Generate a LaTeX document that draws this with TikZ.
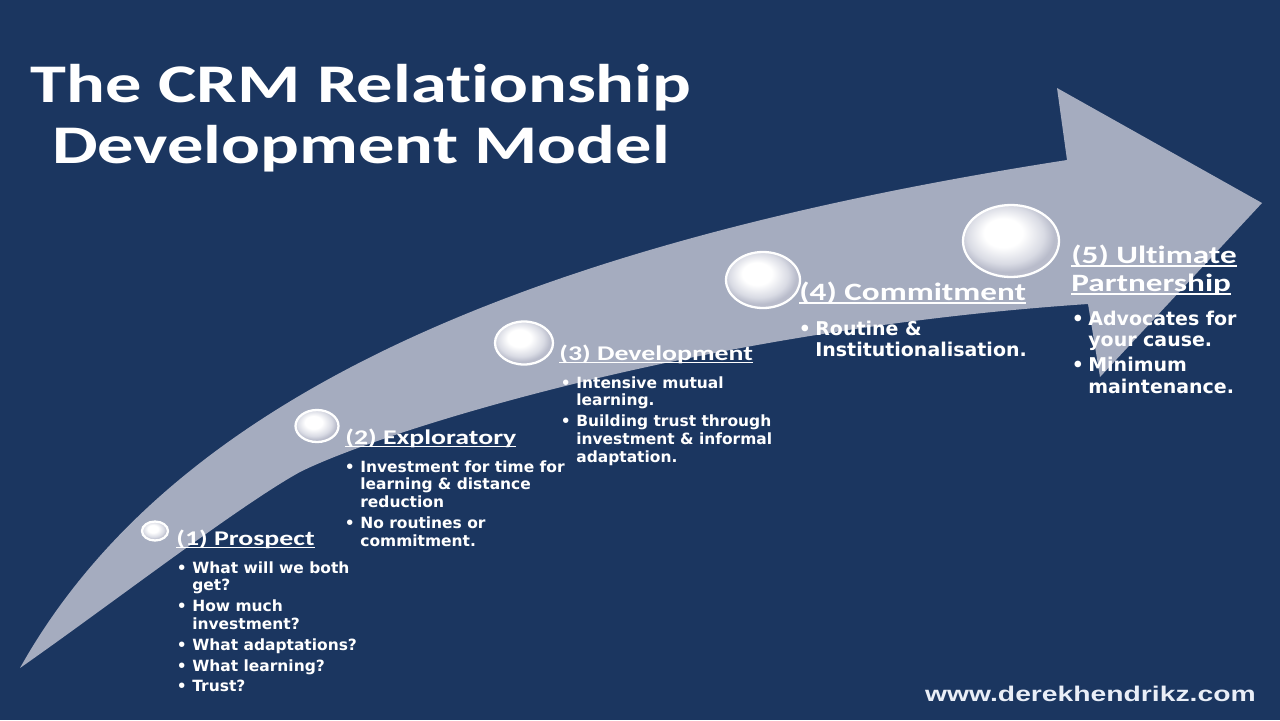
\documentclass[tikz,border=0pt]{standalone}
\usepackage{fontspec}
\setmainfont{DejaVu Sans}
\newfontfamily\hdfont[FakeStretch=1.33,RawFeature={-liga}]{Carlito}
\newfontfamily\btfont{DejaVu Sans}
\newfontfamily\urlfont[FakeStretch=1.33]{Liberation Sans}
\definecolor{bg}{HTML}{1B3660}
\definecolor{arw}{HTML}{A5ACBF}
\definecolor{sphA}{HTML}{D9DBE4}
\definecolor{sphB}{HTML}{B9BCCB}
\definecolor{urlc}{HTML}{E9EEF7}
\pgfdeclareradialshading{sph}{\pgfpoint{-5bp}{7bp}}{color(0bp)=(white); color(10bp)=(white); color(20bp)=(sphA); color(25bp)=(sphB); color(50bp)=(sphB)}
\newlength\bi \setlength\bi{0.31cm}
\newlength\bib \setlength\bib{0.33cm}
\newlength\ulw
\newcommand\hul[1]{\leavevmode\settowidth\ulw{#1}\rlap{\rule[-0.16em]{\ulw}{0.085em}}#1}
\newcommand\bul{\makebox[\bi][l]{•}}
\newcommand\ind{\hspace*{\bi}}
\newcommand\bulb{\makebox[\bib][l]{•}}
\newcommand\indb{\hspace*{\bib}}
\tikzset{
  head/.style={anchor=base west, inner sep=0pt, text=white},
  hsmall/.style={head, font=\hdfont\bfseries\fontsize{11.9}{14}\selectfont},
  hbig/.style={head, font=\hdfont\bfseries\fontsize{14.2}{15.9}\selectfont},
  blist/.style={anchor=base west, inner sep=0pt, text=white},
  sphere/.style={shading=sph},
  rim/.style={draw=white, line width=1.3pt}
}
\begin{document}
\begin{tikzpicture}[x=0.02cm, y=-0.02cm]
\fill[bg] (0,0) rectangle (1280,720);
\useasboundingbox (0,0) rectangle (1280,720);

% arrow
\fill[arw] (20,668) .. controls (170,400) and (520,245) .. (1067,160)
  -- (1057,88) -- (1262,203) -- (1100,377) -- (1088,304)
  .. controls (700,330) and (380,432) .. (300,472)
  .. controls (240,505) and (110,605) .. (20,668) -- cycle;

% spheres
\coordinate (s1) at (155,531);
\coordinate (s2) at (317,426);
\coordinate (s3) at (524,343);
\coordinate (s4) at (763,280);
\coordinate (s5) at (1011,241);
\foreach \c/\rx/\ry in {s1/13/9.5, s2/21.5/16, s3/29/21.5, s4/37/28, s5/48/36}{
  \shade[sphere] (\c) ellipse [x radius=\rx, y radius=\ry];
  \draw[rim] (\c) ellipse [x radius=\rx, y radius=\ry];
}

% title
\node[anchor=base, inner sep=0pt, text=white, font=\hdfont\bfseries\fontsize{31}{35}\selectfont] (title) at (361,102)
  {\parbox[t]{20cm}{\centering The CRM Relationship\\Development Model}};

% headings
\node[hsmall] (h1) at (176,545) {\hul{(1) Prospect}};
\node[hsmall] (h2) at (345,444) {\hul{(2) Exploratory}};
\node[hsmall] (h3) at (559,360) {\hul{(3) Development}};
\node[hbig] (h4) at (799,300) {\hul{(4) Commitment}};
\node[hbig] (h5) at (1071,263) {\parbox[t]{5cm}{\hul{(5) Ultimate}\\[0.2pt]\hul{Partnership}}};

% bullet lists
\node[blist] (b1) at (176.5,573) {\parbox[t]{6cm}{\btfont\bfseries\fontsize{8.8}{10.2}\selectfont
\bul What will we both\\
\ind get?\\[1.6pt]
\bul How much\\
\ind investment?\\[1.6pt]
\bul What adaptations?\\[1.6pt]
\bul What learning?\\[1.6pt]
\bul Trust?}};

\node[blist] (b2) at (344.5,472) {\parbox[t]{6cm}{\btfont\bfseries\fontsize{8.8}{10.2}\selectfont
\bul Investment for time for\\
\ind learning \& distance\\
\ind reduction\\[1.4pt]
\bul No routines or\\
\ind commitment.}};

\node[blist] (b3) at (560.5,388) {\parbox[t]{6cm}{\btfont\bfseries\fontsize{8.8}{10.2}\selectfont
\bul Intensive mutual\\
\ind learning.\\[1.4pt]
\bul Building trust through\\
\ind investment \& informal\\
\ind adaptation.}};

\node[blist] (b4) at (798.5,335) {\parbox[t]{6cm}{\btfont\bfseries\fontsize{10.8}{12.5}\selectfont
\bulb Routine \&\\
\indb Institutionalisation.}};

\node[blist] (b5) at (1071.5,325) {\parbox[t]{6cm}{\btfont\bfseries\fontsize{10.8}{12.5}\selectfont
\bulb Advocates for\\
\indb your cause.\\[1.5pt]
\bulb Minimum\\
\indb maintenance.}};

% url
\node[anchor=base east, inner sep=0pt, text=urlc, font=\urlfont\bfseries\fontsize{12.1}{14}\selectfont] (url) at (1256,701) {www.derekhendrikz.com};
\end{tikzpicture}
\end{document}
